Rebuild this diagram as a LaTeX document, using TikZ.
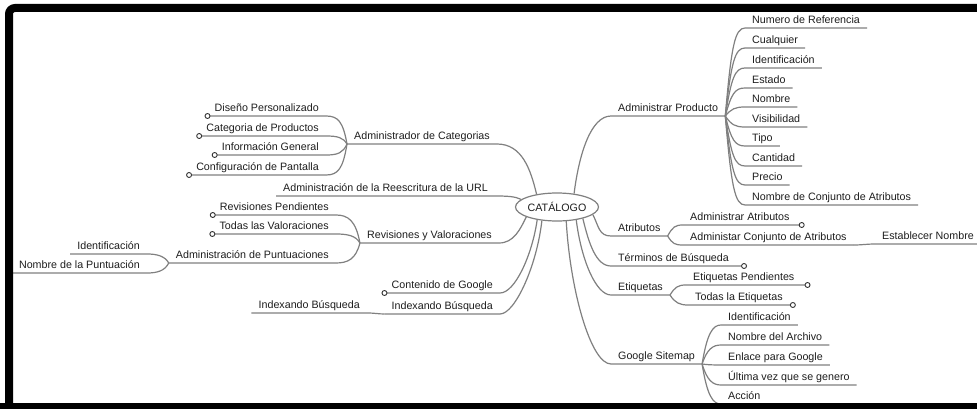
\documentclass[tikz,border=0pt]{standalone}
\usepackage{fontspec}
\setmainfont{Liberation Sans}
\usetikzlibrary{shapes.geometric}
\definecolor{lnk}{RGB}{128,128,128}
\definecolor{txt}{RGB}{30,30,30}
\newcommand\lblfont{\fontsize{10.7}{12}\selectfont}

\begin{document}
\begin{tikzpicture}[x=1pt,y=-1pt,
  lbl/.style={font=\lblfont, text=txt, inner xsep=7pt, inner ysep=1.4pt, text height=8pt, text depth=2.6pt},
  lblL/.style={lbl, anchor=south east},
  lblR/.style={lbl, anchor=south west},
  link/.style={draw=lnk, line width=1.2pt},
  knob/.style={circle, draw=black!80, fill=white, line width=0.9pt, inner sep=0pt, minimum size=5pt},
  hub/.style={ellipse, draw=lnk, line width=1.2pt, fill=white, minimum width=76pt, minimum height=28pt, inner sep=0pt, font=\lblfont, text=txt}
]
\useasboundingbox (0,0) rectangle (977,409);
\clip (0,0) rectangle (977,409);
\fill[white] (0,0) rectangle (977,409);

% central topic
\node[hub] (cat) at (557,207) {CATÁLOGO};

% ---------- left side ----------
\node[lblL] (cats) at (497,144) {Administrador de Categorias};
\node[lblL] (url)  at (495,196) {Administración de la Reescritura de la URL};
\node[lblL] (rev)  at (499,243) {Revisiones y Valoraciones};
\node[lblL] (goo)  at (500,293) {Contenido de Google};
\node[lblL] (idx)  at (500,314) {Indexando Búsqueda};

\draw[link] (cat.148) .. controls +(-6,-25) and +(25,0) .. (cats.south east) -- (cats.south west);
\draw[link] (cat.168) .. controls +(-6,-3) and +(12,0) .. (url.south east) -- (url.south west);
\draw[link] (cat.198) .. controls +(-6,12) and +(15,0) .. (rev.south east) -- (rev.south west);
\draw[link] (cat.213) .. controls +(-5,35) and +(15,0) .. (goo.south east) -- (goo.south west);
\draw[link] (cat.222) .. controls +(-5,45) and +(15,0) .. (idx.south east) -- (idx.south west);
\node[knob] (goo-k) at (goo.south west) {};

% categories
\foreach \nm/\yy/\lab in {c1/116/Diseño Personalizado, c2/136/Categoria de Productos,
    c3/155/Información General, c4/175/Configuración de Pantalla} {
  \node[lblL] (\nm) at (326,\yy) {\lab};
  \draw[link] (cats.south west) .. controls +(-4,{0.8*(\yy-144)}) and +(12,0) .. (\nm.south east) -- (\nm.south west);
  \node[knob] (\nm-k) at (\nm.south west) {};
}

% reviews
\foreach \nm/\yy/\lab in {r1/215/Revisiones Pendientes, r2/234/Todas las Valoraciones} {
  \node[lblL] (\nm) at (336,\yy) {\lab};
  \draw[link] (rev.south west) .. controls +(-4,{0.8*(\yy-243)}) and +(12,0) .. (\nm.south east) -- (\nm.south west);
  \node[knob] (\nm-k) at (\nm.south west) {};
}
\node[lblL] (pun) at (336,263) {Administración de Puntuaciones};
\draw[link] (rev.south west) .. controls +(-4,16) and +(12,0) .. (pun.south east) -- (pun.south west);
\node[lblL] (p1) at (147,254) {Identificación};
\node[lblL] (p2) at (147,273) {Nombre de la Puntuación};
\draw[link] (pun.south west) .. controls +(-4,-7) and +(10,0) .. (p1.south east) -- (p1.south west);
\draw[link] (pun.south west) .. controls +(-4,8) and +(10,0) .. (p2.south east) -- (p2.south west);

% indexing
\node[lblL] (idx2) at (367,313) {Indexando Búsqueda};
\draw[link] (idx.south west) .. controls +(-6,0) and +(8,0) .. (idx2.south east) -- (idx2.south west);

% ---------- right side ----------
\node[lblR] (prod) at (611,116) {Administrar Producto};
\node[lblR] (atr)  at (611,236) {Atributos};
\node[lblR] (ter)  at (611,266) {Términos de Búsqueda};
\node[lblR] (eti)  at (611,295) {Etiquetas};
\node[lblR] (map)  at (611,364) {Google Sitemap};

\draw[link] (cat.38) .. controls +(5,-40) and +(-20,0) .. (prod.south west) -- (prod.south east);
\draw[link] (cat.348) .. controls +(6,12) and +(-12,0) .. (atr.south west) -- (atr.south east);
\draw[link] (cat.336) .. controls +(6,25) and +(-15,0) .. (ter.south west) -- ([xshift=8pt]ter.south east) node[knob] (ter-k) {};
\draw[link] (cat.326) .. controls +(5,40) and +(-15,0) .. (eti.south west) -- (eti.south east);
\draw[link] (cat.303) .. controls +(4,70) and +(-20,0) .. (map.south west) -- (map.south east);

% product fields
\foreach \nm/\yy/\lab in {a1/28/Numero de Referencia, a2/48/Cualquier, a3/68/Identificación,
    a4/88/Estado, a5/107/Nombre, a6/127/Visibilidad, a7/146/Tipo, a8/166/Cantidad,
    a9/185/Precio, a10/205/Nombre de Conjunto de Atributos} {
  \node[lblR] (\nm) at (745,\yy) {\lab};
  \draw[link] (prod.south east) .. controls +(6,{0.8*(\yy-116)}) and +(-10,0) .. (\nm.south west) -- (\nm.south east);
}

% attributes
\node[lblR] (at1) at (683,225) {Administrar Atributos};
\node[lblR] (at2) at (683,245) {Administar Conjunto de Atributos};
\draw[link] (atr.south east) .. controls +(5,-9) and +(-8,0) .. (at1.south west) -- ([xshift=5pt]at1.south east) node[knob] (at1-k) {};
\draw[link] (atr.south east) .. controls +(5,8) and +(-8,0) .. (at2.south west) -- (at2.south east);
\node[lblR] (nom) at (875,244) {Establecer Nombre};
\draw[link] (at2.south east) .. controls +(8,0) and +(-8,0) .. (nom.south west) -- (nom.south east);

% tags
\node[lblR] (e1) at (686,285) {Etiquetas Pendientes};
\node[lblR] (e2) at (688,305) {Todas la Etiquetas};
\draw[link] (eti.south east) .. controls +(5,-8) and +(-8,0) .. (e1.south west) -- ([xshift=6pt]e1.south east) node[knob] (e1-k) {};
\draw[link] (eti.south east) .. controls +(5,8) and +(-8,0) .. (e2.south west) -- ([xshift=3pt]e2.south east) node[knob] (e2-k) {};

% sitemap
\foreach \nm/\yy/\lab in {g1/325/Identificación, g2/345/Nombre del Archivo, g3/365/Enlace para Google,
    g4/385/Última vez que se genero, g5/404/Acción} {
  \node[lblR] (\nm) at (721,\yy) {\lab};
  \draw[link] (map.south east) .. controls +(5,{0.8*(\yy-364)}) and +(-8,0) .. (\nm.south west) -- (\nm.south east);
}

% heavy frame
\draw[line width=8pt, rounded corners=6pt] (995,8) -- (9,8) -- (9,412);
\fill[black] (0,403) rectangle (977,409);
\end{tikzpicture}
\end{document}
